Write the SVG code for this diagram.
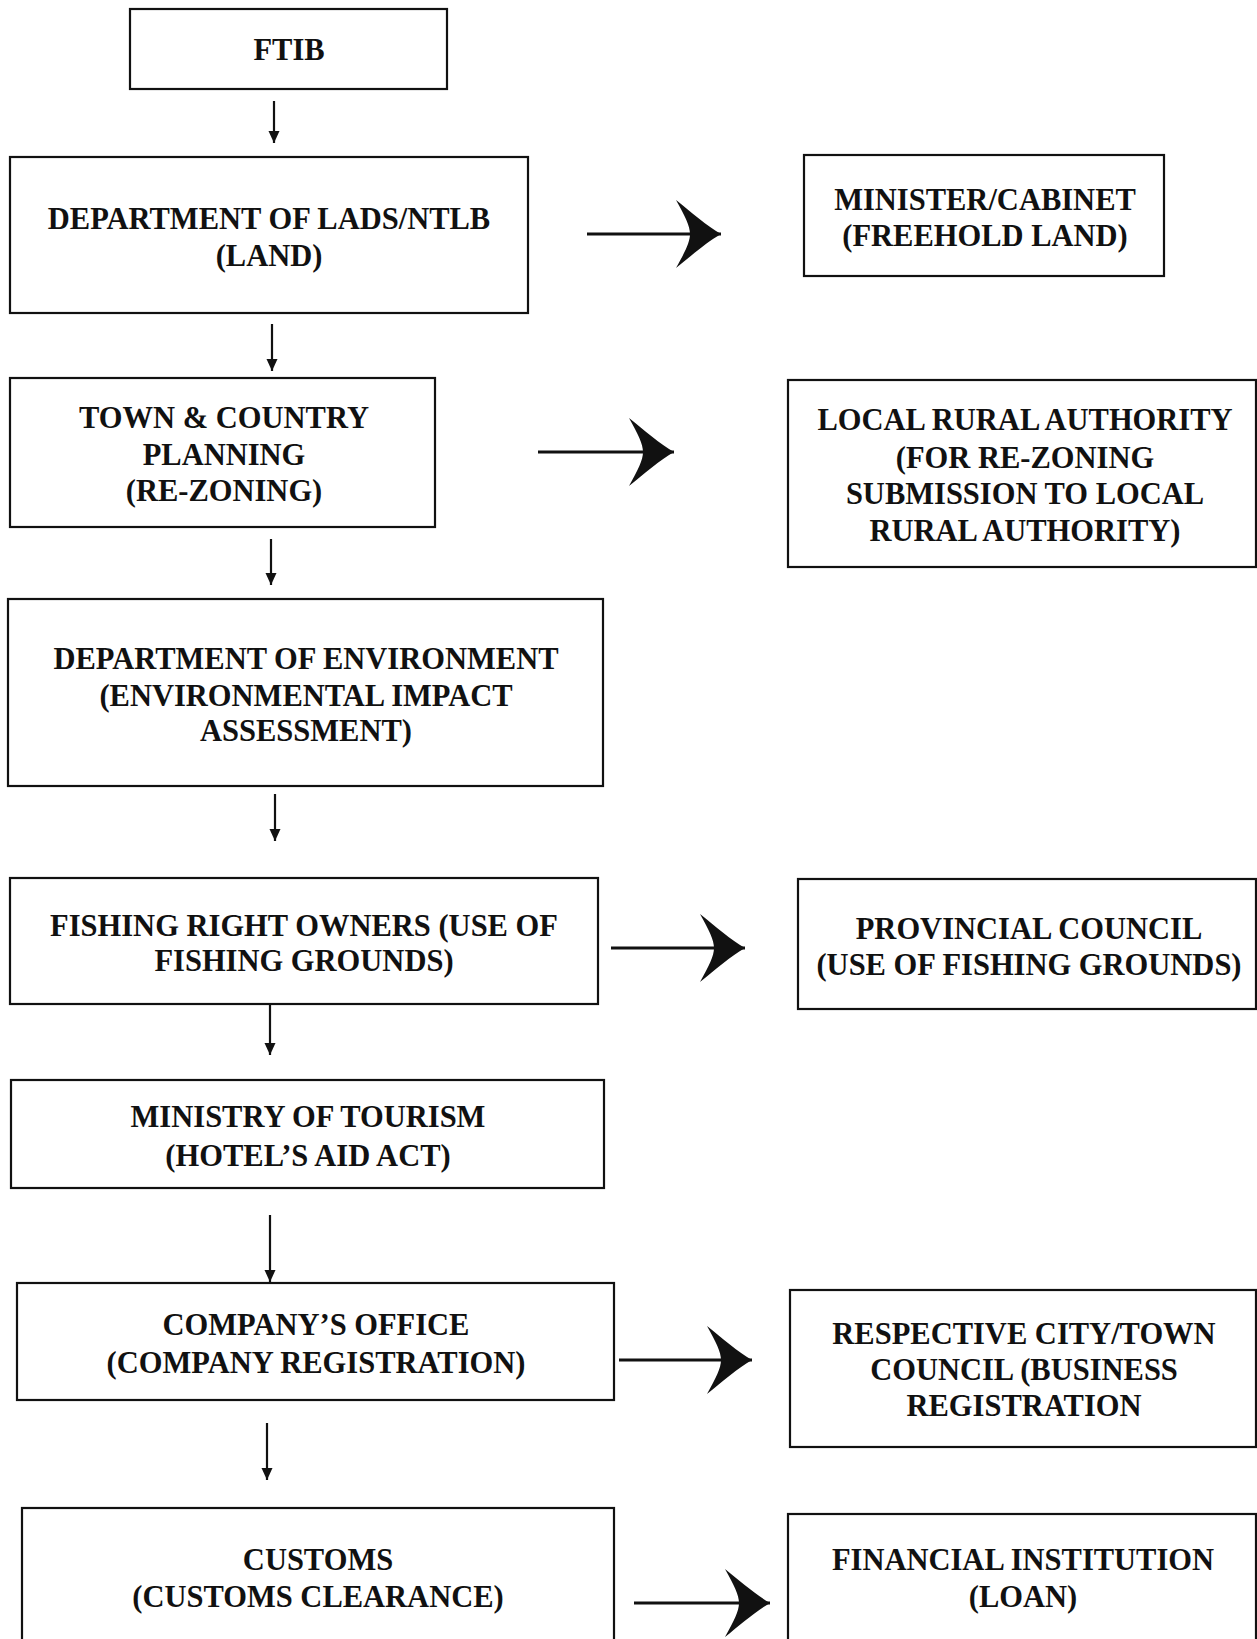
<svg xmlns="http://www.w3.org/2000/svg" width="1257" height="1639" viewBox="0 0 1257 1639">
<defs>
<style>
.box{fill:#fff;stroke:#111;stroke-width:2.2}
.t{font-family:"Liberation Serif","Times New Roman",serif;font-weight:bold;font-size:30.5px;fill:#111;text-anchor:middle}
.v{stroke:#111;stroke-width:2.2;fill:none}
.h{stroke:#111;stroke-width:3;fill:none}
</style>
<marker id="sm" viewBox="-13 -6 14 12" refX="0" refY="0" markerWidth="14" markerHeight="12" markerUnits="userSpaceOnUse" orient="auto">
<path d="M-12,-5.5 L0,0 L-12,5.5 Z" fill="#111"/>
</marker>
<marker id="big" viewBox="-47 -36 49 72" refX="0" refY="0" markerWidth="49" markerHeight="72" markerUnits="userSpaceOnUse" orient="auto">
<path d="M0,0 C-14,-8 -30,-22 -45,-34 C-36,-18 -31,-8 -31,0 C-31,8 -36,18 -45,34 C-30,22 -14,8 0,0 Z" fill="#111"/>
</marker>
</defs>
<rect width="1257" height="1639" fill="#fff"/>
<g id="connectors">
<line class="v" x1="274" y1="101" x2="274" y2="143" marker-end="url(#sm)"/>
<line class="v" x1="272" y1="324" x2="272" y2="371" marker-end="url(#sm)"/>
<line class="v" x1="271" y1="539" x2="271" y2="585" marker-end="url(#sm)"/>
<line class="v" x1="275" y1="794" x2="275" y2="841" marker-end="url(#sm)"/>
<line class="v" x1="270" y1="1005" x2="270" y2="1055" marker-end="url(#sm)"/>
<line class="v" x1="270" y1="1215" x2="270" y2="1282" stroke-width="2.8" marker-end="url(#sm)"/>
<line class="v" x1="267" y1="1423" x2="267" y2="1480" marker-end="url(#sm)"/>
<line class="h" x1="587" y1="234" x2="721" y2="234" marker-end="url(#big)"/>
<line class="h" x1="538" y1="452" x2="674" y2="452" marker-end="url(#big)"/>
<line class="h" x1="611" y1="948" x2="745" y2="948" marker-end="url(#big)"/>
<line class="h" x1="619" y1="1360" x2="752" y2="1360" marker-end="url(#big)"/>
<line class="h" x1="634" y1="1603" x2="770" y2="1603" marker-end="url(#big)"/>
</g>
<g id="ftib"><rect class="box" x="130" y="9" width="317" height="80"/><text class="t" x="289" y="60">FTIB</text></g>
<g id="lands"><rect class="box" x="10" y="157" width="518" height="156"/><text class="t" x="269" y="229">DEPARTMENT OF LADS/NTLB</text><text class="t" x="269" y="266">(LAND)</text></g>
<g id="minister"><rect class="box" x="804" y="155" width="360" height="121"/><text class="t" x="985" y="210">MINISTER/CABINET</text><text class="t" x="985" y="246">(FREEHOLD LAND)</text></g>
<g id="town"><rect class="box" x="10" y="378" width="425" height="149"/><text class="t" x="224" y="428">TOWN &amp; COUNTRY</text><text class="t" x="224" y="465">PLANNING</text><text class="t" x="224" y="501">(RE-ZONING)</text></g>
<g id="local"><rect class="box" x="788" y="380" width="468" height="187"/><text class="t" x="1025" y="430">LOCAL RURAL AUTHORITY</text><text class="t" x="1025" y="468">(FOR RE-ZONING</text><text class="t" x="1025" y="504">SUBMISSION TO LOCAL</text><text class="t" x="1025" y="541">RURAL AUTHORITY)</text></g>
<g id="env"><rect class="box" x="8" y="599" width="595" height="187"/><text class="t" x="306" y="669">DEPARTMENT OF ENVIRONMENT</text><text class="t" x="306" y="706">(ENVIRONMENTAL IMPACT</text><text class="t" x="306" y="741">ASSESSMENT)</text></g>
<g id="fishing"><rect class="box" x="10" y="878" width="588" height="126"/><text class="t" x="304" y="936">FISHING RIGHT OWNERS (USE OF</text><text class="t" x="304" y="971">FISHING GROUNDS)</text></g>
<g id="provincial"><rect class="box" x="798" y="879" width="458" height="130"/><text class="t" x="1029" y="939">PROVINCIAL COUNCIL</text><text class="t" x="1029" y="975">(USE OF FISHING GROUNDS)</text></g>
<g id="tourism"><rect class="box" x="11" y="1080" width="593" height="108"/><text class="t" x="308" y="1127">MINISTRY OF TOURISM</text><text class="t" x="308" y="1166">(HOTEL’S AID ACT)</text></g>
<g id="company"><rect class="box" x="17" y="1283" width="597" height="117"/><text class="t" x="316" y="1335">COMPANY’S OFFICE</text><text class="t" x="316" y="1373">(COMPANY REGISTRATION)</text></g>
<g id="council"><rect class="box" x="790" y="1290" width="466" height="157"/><text class="t" x="1024" y="1344">RESPECTIVE CITY/TOWN</text><text class="t" x="1024" y="1380">COUNCIL (BUSINESS</text><text class="t" x="1024" y="1416">REGISTRATION</text></g>
<g id="customs"><rect class="box" x="22" y="1508" width="592" height="140"/><text class="t" x="318" y="1570">CUSTOMS</text><text class="t" x="318" y="1607">(CUSTOMS CLEARANCE)</text></g>
<g id="financial"><rect class="box" x="788" y="1514" width="468" height="140"/><text class="t" x="1023" y="1570">FINANCIAL INSTITUTION</text><text class="t" x="1023" y="1607">(LOAN)</text></g>
</svg>
